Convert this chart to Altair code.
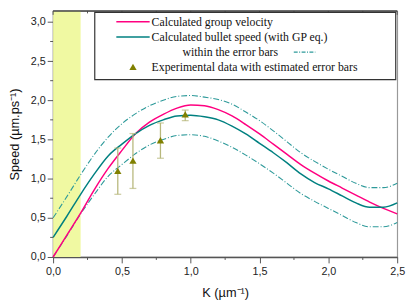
import altair as alt
import pandas as pd

# ---------------- data ----------------
K = [0.0, 0.1, 0.2, 0.3, 0.4, 0.5, 0.6, 0.7, 0.8, 0.9, 1.0, 1.1, 1.2,
     1.3, 1.4, 1.5, 1.6, 1.7, 1.8, 1.9, 2.0, 2.1, 2.2, 2.3, 2.4, 2.5]
group_velocity = [0.00, 0.28, 0.56, 0.86, 1.13, 1.36, 1.575, 1.72, 1.82, 1.90, 1.94, 1.93, 1.88,
                  1.80, 1.69, 1.57, 1.44, 1.31, 1.18, 1.07, 0.97, 0.88, 0.79, 0.70, 0.62, 0.55]
bullet_speed = [0.25, 0.52, 0.80, 1.06, 1.29, 1.44, 1.575, 1.68, 1.75, 1.80, 1.81, 1.79, 1.75,
                1.67, 1.57, 1.45, 1.33, 1.20, 1.06, 0.95, 0.87, 0.78, 0.69, 0.635, 0.635, 0.69]
upper_bound = [0.50, 0.77, 1.05, 1.31, 1.53, 1.70, 1.83, 1.93, 2.00, 2.05, 2.06, 2.04, 2.01,
               1.95, 1.85, 1.74, 1.61, 1.47, 1.33, 1.22, 1.12, 1.03, 0.94, 0.885, 0.885, 0.94]
lower_bound = [0.00, 0.27, 0.55, 0.80, 1.03, 1.18, 1.32, 1.43, 1.50, 1.55, 1.56, 1.54, 1.48,
               1.40, 1.30, 1.19, 1.07, 0.94, 0.81, 0.71, 0.62, 0.53, 0.44, 0.385, 0.385, 0.44]

exp_K = [0.47, 0.58, 0.78, 0.96]
exp_speed = [1.10, 1.23, 1.49, 1.82]
exp_low = [0.80, 0.875, 1.26, 1.74]
exp_high = [1.39, 1.575, 1.71, 1.875]

band_start = [0.0]
band_end = [0.2]

x_major = [0.0, 0.5, 1.0, 1.5, 2.0, 2.5]
x_minor = [0.25, 0.75, 1.25, 1.75, 2.25]
y_major = [0.0, 0.5, 1.0, 1.5, 2.0, 2.5, 3.0]
y_minor = [0.25, 0.75, 1.25, 1.75, 2.25, 2.75]

legend_labels = ["Calculated group velocity",
                 "Calculated bullet speed (with GP eq.)",
                 "within the error bars",
                 "Experimental data with estimated error bars"]

# ---------------- styling ----------------
PINK = "#FF0080"
TEAL = "#008080"
DASH_TEAL = "#2E9A9A"
OLIVE = "#808000"
ERR = "#B8B87C"
SERIF = "Liberation Serif"
SANS = "Liberation Sans"
W, H = 351, 251

lab_expr = "replace(format(datum.value, '.1f'), '.', ',')"

x_scale = alt.Scale(domain=[0, 2.5], nice=False, zero=False)
y_scale = alt.Scale(domain=[0, 3.14], nice=False, zero=False)

x_axis = alt.Axis(values=x_major, labelExpr=lab_expr, tickSize=6, title="K (µm⁻¹)",
                  domainColor="#555", domainWidth=1.5, tickColor="#555", tickWidth=1,
                  labelFont=SANS, labelFontSize=11, labelColor="#222", labelPadding=3,
                  labelFlush=False, labelOverlap=False,
                  titleFont=SANS, titleFontSize=13, titleFontWeight="normal", titleColor="#111",
                  titlePadding=10, grid=False)
y_axis = alt.Axis(values=y_major, labelExpr=lab_expr, tickSize=6, title="Speed (µm.ps⁻¹)",
                  domainColor="#555", domainWidth=1.5, tickColor="#555", tickWidth=1,
                  labelFont=SANS, labelFontSize=11, labelColor="#222", labelPadding=2,
                  labelFlush=False, labelOverlap=False,
                  titleFont=SANS, titleFontSize=13, titleFontWeight="normal", titleColor="#111",
                  titlePadding=9, grid=False)


def X(field):
    return alt.X(field, type="quantitative", scale=x_scale, axis=x_axis)


def Y(field):
    return alt.Y(field, type="quantitative", scale=y_scale, axis=y_axis)


curves = pd.DataFrame({
    "K": K * 4,
    "v": group_velocity + bullet_speed + upper_bound + lower_bound,
    "series": (["group"] * len(K)) + (["bullet"] * len(K)) + (["upper"] * len(K)) + (["lower"] * len(K)),
})
solid = curves[curves.series.isin(["group", "bullet"])]
dashed = curves[curves.series.isin(["upper", "lower"])]

exp = pd.DataFrame({"K": exp_K, "v": exp_speed, "lo": exp_low, "hi": exp_high})
band = pd.DataFrame({"K": band_start, "k1": band_end})
xminor_df = pd.DataFrame({"K": x_minor})
xmajor_df = pd.DataFrame({"K": x_major})
yminor_df = pd.DataFrame({"v": y_minor})

band_layer = alt.Chart(band).mark_rect(color="#F0F9A2").encode(
    x=X("K"), x2="k1:Q", y=alt.value(0), y2=alt.value(H))

dashed_layer = alt.Chart(dashed).mark_line(strokeWidth=1.1, strokeDash=[6, 2, 1, 2], color=DASH_TEAL,
                                           interpolate="monotone").encode(
    x=X("K"), y=Y("v"), detail="series:N")

solid_layer = alt.Chart(solid).mark_line(strokeWidth=1.5, interpolate="monotone").encode(
    x=X("K"), y=Y("v"),
    color=alt.Color("series:N", scale=alt.Scale(domain=["group", "bullet"], range=[PINK, TEAL]), legend=None),
)

err_layer = alt.Chart(exp).mark_rule(color=ERR, strokeWidth=1.3).encode(x=X("K"), y=Y("lo"), y2="hi:Q")
cap_lo = alt.Chart(exp).mark_tick(color=ERR, orient="horizontal", size=7, thickness=1.3).encode(x=X("K"), y=Y("lo"))
cap_hi = alt.Chart(exp).mark_tick(color=ERR, orient="horizontal", size=7, thickness=1.3).encode(x=X("K"), y=Y("hi"))
pts_layer = alt.Chart(exp).mark_point(shape="triangle-up", filled=True, opacity=1, color=OLIVE,
                                      size=55).encode(x=X("K"), y=Y("v"))

# minor ticks and top ticks placed through the scales
xminor_bottom = alt.Chart(xminor_df).mark_rule(color="#555", strokeWidth=1).encode(
    x=X("K"), y=alt.value(H), y2=alt.value(H + 3))
x_top_major = alt.Chart(xmajor_df).mark_rule(color="#555", strokeWidth=1).encode(
    x=X("K"), y=alt.value(0), y2=alt.value(4))
x_top_minor = alt.Chart(xminor_df).mark_rule(color="#555", strokeWidth=1).encode(
    x=X("K"), y=alt.value(0), y2=alt.value(2.5))
yminor_left = alt.Chart(yminor_df).mark_rule(color="#555", strokeWidth=1).encode(
    y=Y("v"), x=alt.value(-3), x2=alt.value(0))

# ---------------- hand-drawn legend box ----------------
one = pd.DataFrame({"a": [0]})
row_y = [11, 26.5, 42, 57]
box = alt.Chart(one).mark_rect(fill="white", stroke="#333", strokeWidth=1.2).encode(
    x=alt.value(42.5), x2=alt.value(349.5), y=alt.value(1.5), y2=alt.value(70))
top_line = alt.Chart(one).mark_rule(color="#444", strokeWidth=1.5).encode(
    x=alt.value(0), x2=alt.value(W), y=alt.value(0))
leg_pink = alt.Chart(one).mark_rule(color=PINK, strokeWidth=1.5).encode(
    x=alt.value(64.5), x2=alt.value(98.5), y=alt.value(row_y[0]))
leg_teal = alt.Chart(one).mark_rule(color=TEAL, strokeWidth=1.5).encode(
    x=alt.value(64.5), x2=alt.value(98.5), y=alt.value(row_y[1]))
leg_dash = alt.Chart(one).mark_rule(color=DASH_TEAL, strokeWidth=1.1, strokeDash=[4, 1.5, 1, 1.5]).encode(
    x=alt.value(245.5), x2=alt.value(267.5), y=alt.value(row_y[2]))
leg_tri = alt.Chart(one).mark_point(shape="triangle-up", filled=True, opacity=1, color=OLIVE, size=55).encode(
    x=alt.value(81.5), y=alt.value(row_y[3]))


def leg_text(label, x, y):
    return alt.Chart(one).mark_text(font=SERIF, fontSize=12, color="#111", align="left",
                                    baseline="middle").encode(
        x=alt.value(x), y=alt.value(y), text=alt.value(label))


texts = [leg_text(legend_labels[0], 100.5, row_y[0]),
         leg_text(legend_labels[1], 100.5, row_y[1]),
         leg_text(legend_labels[2], 132, row_y[2]),
         leg_text(legend_labels[3], 100.5, row_y[3])]

chart = alt.layer(band_layer, dashed_layer, solid_layer, err_layer, cap_lo, cap_hi, pts_layer,
                  xminor_bottom, x_top_major, x_top_minor, yminor_left, top_line,
                  box, leg_pink, leg_teal, leg_dash, leg_tri, *texts).properties(
    width=W, height=H,
    autosize=alt.AutoSizeParams(type="none"),
    padding={"left": 46, "top": 0, "right": 10, "bottom": 47},
    background="white",
).configure_view(stroke="#999", strokeWidth=1.2)

chart.save("out.html", embed_options={"renderer": "svg", "actions": False})
